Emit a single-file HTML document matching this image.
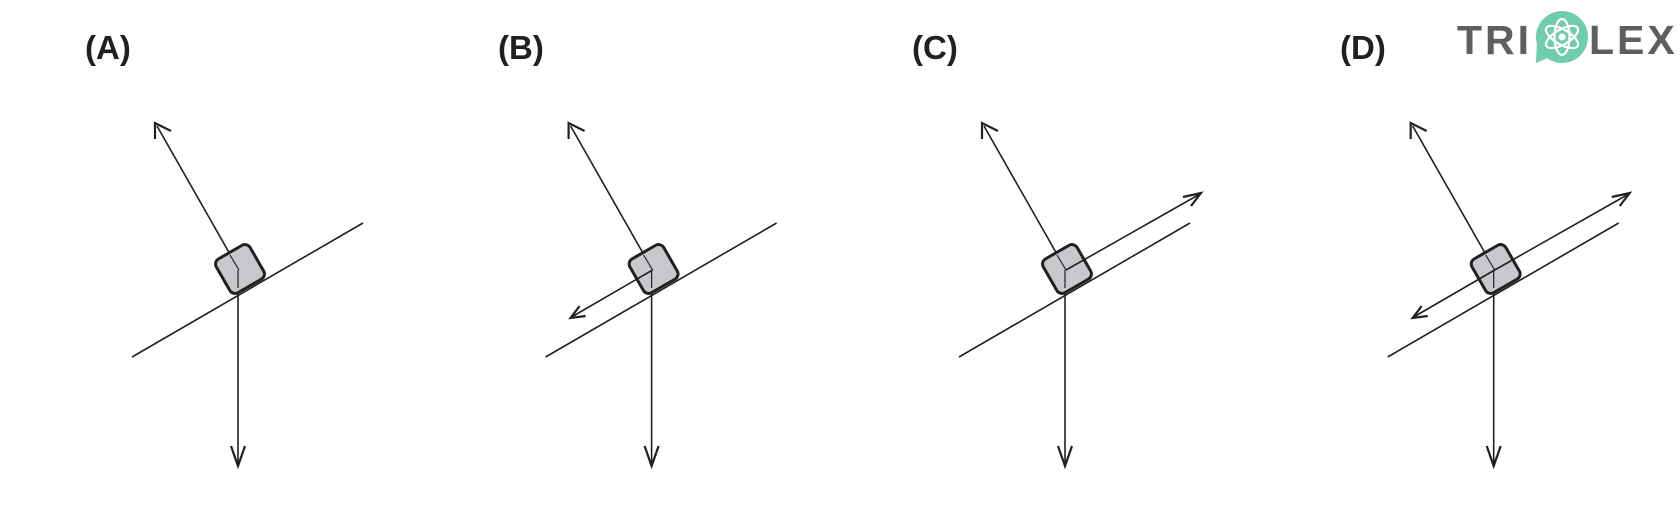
<!DOCTYPE html>
<html><head><style>
html,body{margin:0;padding:0;background:#fff;}
svg{display:block;}
</style></head><body>
<svg width="1680" height="506" viewBox="0 0 1680 506" xmlns="http://www.w3.org/2000/svg">
<defs>
<g id="base" stroke="#231f20" fill="none">
  <line x1="132" y1="357" x2="363" y2="223" stroke-width="1.6"/>
  <line x1="239" y1="270" x2="157" y2="126" stroke-width="1.6"/>
  <polyline points="155,139 155,123 171,131" stroke-width="2.2"/>
  <line x1="238" y1="270" x2="238" y2="465" stroke-width="1.6"/>
  <polyline points="231,446 238,466 245,446" stroke-width="2.2"/>
  <g transform="translate(240,269) rotate(-30)">
    <rect x="-19.5" y="-19.5" width="39" height="39" rx="6" fill="#c8c7cc" stroke-width="3"/>
  </g>
  <line x1="239" y1="270" x2="230" y2="255" stroke-width="1.2"/>
  <line x1="238" y1="270" x2="238" y2="288" stroke-width="1.2"/>
</g>
<g id="down" stroke="#231f20" fill="none">
  <line x1="239" y1="270" x2="158" y2="317" stroke-width="1.6"/>
  <polyline points="172,316 157,318 166,306" stroke-width="2.2"/>
</g>
<g id="up" stroke="#231f20" fill="none">
  <line x1="239" y1="270" x2="373" y2="194" stroke-width="1.6"/>
  <polyline points="356,197 374,193 364,206" stroke-width="2.2"/>
</g>
</defs>
<g font-family="Liberation Sans, sans-serif" font-weight="bold" font-size="33" fill="#231f20">
<text x="85" y="59">(A)</text>
<text x="498" y="59">(B)</text>
<text x="912" y="59">(C)</text>
<text x="1340" y="59">(D)</text>
</g>
<use href="#base"/>
<g transform="translate(413.6,0)"><use href="#base"/><use href="#down"/></g>
<g transform="translate(827,0)"><use href="#base"/><use href="#up"/></g>
<g transform="translate(1255.7,0)"><use href="#base"/><use href="#down"/><use href="#up"/></g>
<!-- logo -->
<g font-family="Liberation Sans, sans-serif" font-weight="bold" font-size="41" fill="#5f5f5f">
<text x="1457" y="54" letter-spacing="3">TRI</text>
<text x="1589" y="54" letter-spacing="3">LEX</text>
</g>
<circle cx="1562" cy="37" r="26" fill="#6fcdad"/>
<path d="M1537 40 L1536 63 L1550 57 Z" fill="#6fcdad"/>
<g fill="none" stroke="#fff" stroke-width="2.2">
<ellipse cx="1562" cy="37" rx="18" ry="7.5" transform="rotate(30 1562 37)"/>
<ellipse cx="1562" cy="37" rx="18" ry="7.5" transform="rotate(-30 1562 37)"/>
<ellipse cx="1562" cy="37" rx="18" ry="7.5" transform="rotate(90 1562 37)"/>
</g>
<circle cx="1562" cy="37" r="3.5" fill="#fff"/>
</svg>
</body></html>
